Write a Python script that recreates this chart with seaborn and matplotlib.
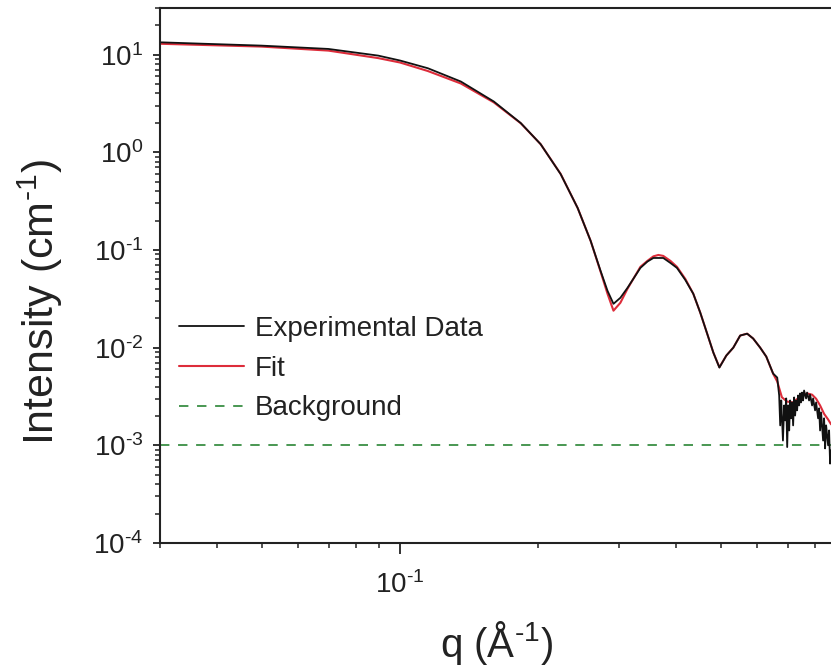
import matplotlib
matplotlib.use("Agg")
import math
import matplotlib.pyplot as plt
import matplotlib.ticker as mticker
import seaborn as sns
import pandas as pd

# ---- data ----
q_exp = [0.0302, 0.0369, 0.0499, 0.0698, 0.0896, 0.1000, 0.1150, 0.1357, 0.1601, 0.1833,
         0.2025, 0.2239, 0.2438, 0.2602, 0.2735, 0.2832, 0.2918, 0.3021, 0.3130, 0.3340,
         0.3459, 0.3565, 0.3746, 0.3883, 0.4012, 0.4183, 0.4355, 0.4510, 0.4669, 0.4816,
         0.4964, 0.5140, 0.5323, 0.5510, 0.5706, 0.5880, 0.6091, 0.6280, 0.6500,
         0.6635, 0.6700, 0.6735, 0.6770, 0.6793, 0.6828, 0.6871, 0.6905, 0.6940, 0.6975,
         0.7010, 0.7045, 0.7079, 0.7115, 0.7150, 0.7186, 0.7222, 0.7258, 0.7295, 0.7331,
         0.7368, 0.7405, 0.7442, 0.7479, 0.7516, 0.7554, 0.7592, 0.7668, 0.7707, 0.7785,
         0.7824, 0.7903, 0.7943, 0.8023, 0.8064, 0.8145, 0.8186, 0.8227, 0.8269, 0.8352,
         0.8394, 0.8436, 0.8479, 0.8564, 0.8607, 0.8650, 0.8693]
I_exp = [13.35, 12.94, 12.36, 11.43, 9.77, 8.7, 7.25, 5.30, 3.31, 1.99,
         1.21, 0.597, 0.269, 0.124, 0.0611, 0.0382, 0.0281, 0.0324, 0.0409, 0.0655,
         0.0760, 0.0828, 0.0828, 0.0736, 0.0655, 0.0494, 0.0356, 0.0228, 0.0139, 0.0089,
         0.00625, 0.0083, 0.0100, 0.0133, 0.0139, 0.0124, 0.0100, 0.0081, 0.00543,
         0.00494, 0.00324, 0.00160, 0.00288, 0.00202, 0.00112, 0.00256, 0.00180, 0.00302, 0.00096,
         0.00256, 0.00142, 0.00288, 0.00189, 0.00275, 0.00160, 0.00309, 0.00202, 0.00288, 0.00228,
         0.00324, 0.00256, 0.00340, 0.00275, 0.00347, 0.00288, 0.00364, 0.00302, 0.00347, 0.00288,
         0.00331, 0.00256, 0.00302, 0.00228, 0.00275, 0.00189, 0.00239, 0.00142, 0.00217, 0.00112,
         0.00189, 0.00093, 0.00160, 0.00100, 0.00142, 0.00065, 0.00089]

q_fit = [0.0302, 0.0499, 0.0698, 0.0896, 0.1000, 0.1150, 0.1357, 0.1601, 0.1833, 0.2025,
         0.2239, 0.2438, 0.2602, 0.2735, 0.2832, 0.2918, 0.3021, 0.3130, 0.3340, 0.3459,
         0.3565, 0.3655, 0.3746, 0.3883, 0.4012, 0.4183, 0.4355, 0.4510, 0.4669, 0.4816,
         0.4964, 0.5140, 0.5323, 0.5510, 0.5706, 0.5880, 0.6091, 0.6280, 0.6500, 0.6635,
         0.6793, 0.6975, 0.7186, 0.7405, 0.7707, 0.7903, 0.8064, 0.8227, 0.8394, 0.8564,
         0.8693]
I_fit = [12.9, 12.08, 10.99, 9.21, 8.3, 6.79, 5.06, 3.24, 1.98, 1.21,
         0.60, 0.269, 0.124, 0.060, 0.0356, 0.0239, 0.0288, 0.040, 0.0672, 0.0773,
         0.0860, 0.0889, 0.0869, 0.0773, 0.0672, 0.0506, 0.0356, 0.0228, 0.0139, 0.0089,
         0.0063, 0.0083, 0.0100, 0.0133, 0.0139, 0.0124, 0.0100, 0.0081, 0.0054, 0.0045,
         0.0031, 0.0028, 0.00275, 0.0031, 0.0034, 0.0033, 0.0030, 0.00256, 0.0021, 0.00184,
         0.00164]

q_bg = [0.03, 0.90]
I_bg = [0.001, 0.001]

labels = ["Experimental Data", "Fit", "Background"]

# ---- style ----
sns.set_theme(style="ticks")
plt.rcParams["font.family"] = ["Liberation Sans", "DejaVu Sans"]
plt.rcParams["mathtext.fontset"] = "custom"
plt.rcParams["mathtext.rm"] = "Liberation Sans"
plt.rcParams["mathtext.it"] = "Liberation Sans:italic"
plt.rcParams["mathtext.bf"] = "Liberation Sans:bold"
plt.rcParams["axes.unicode_minus"] = False

W, H = 831, 669
fig = plt.figure(figsize=(W / 100, H / 100), dpi=100)
ax = fig.add_axes([160 / W, (H - 543) / H, (838 - 160) / W, (543 - 8) / H])

df_exp = pd.DataFrame({"q": q_exp, "I": I_exp})
df_fit = pd.DataFrame({"q": q_fit, "I": I_fit})
df_bg = pd.DataFrame({"q": q_bg, "I": I_bg})

sns.lineplot(data=df_fit, x="q", y="I", ax=ax, color="#dd2c3a", lw=1.5,
             sort=False, estimator=None, label=labels[1], zorder=2)
sns.lineplot(data=df_exp, x="q", y="I", ax=ax, color="#111111", lw=1.3,
             sort=False, estimator=None, label=labels[0], zorder=3)
sns.lineplot(data=df_bg, x="q", y="I", ax=ax, color="#3a8f44", lw=1.3,
             ls=(0, (5.2, 4.8)), sort=False, estimator=None, label=labels[2], zorder=1)

ax.set_xscale("log")
ax.set_yscale("log")
ax.set_xlim(0.03, 0.90)
ax.set_ylim(1e-4, 30)


def pow10(v, pos):
    e = int(round(math.log10(v)))
    if e < 0:
        return "10$^{\\text{-}%d}$" % (-e)
    return "10$^{%d}$" % e


ax.yaxis.set_major_locator(mticker.LogLocator(base=10, numticks=20))
ax.yaxis.set_minor_locator(mticker.LogLocator(base=10, subs=range(2, 10), numticks=100))
ax.yaxis.set_major_formatter(mticker.FuncFormatter(pow10))
ax.yaxis.set_minor_formatter(mticker.NullFormatter())
ax.xaxis.set_major_locator(mticker.LogLocator(base=10, numticks=20))
ax.xaxis.set_minor_locator(mticker.LogLocator(base=10, subs=range(2, 10), numticks=100))
ax.xaxis.set_major_formatter(mticker.FuncFormatter(pow10))
ax.xaxis.set_minor_formatter(mticker.NullFormatter())

for s in ["left", "bottom", "top", "right"]:
    ax.spines[s].set_color("#222222")
    ax.spines[s].set_linewidth(1.5)
ax.spines["right"].set_visible(False)

ax.tick_params(axis="y", which="major", direction="out", length=5, width=1.3,
               colors="#222222", labelsize=20, pad=7, right=False)
ax.tick_params(axis="x", which="major", direction="out", length=8, width=1.3,
               colors="#222222", labelsize=20, pad=12, top=False)
ax.tick_params(which="minor", direction="out", length=3.5, width=1.1, colors="#222222",
               top=False, right=False)

ax.set_xlabel("q (Å$^{\\text{-}1}$)", fontsize=29, color="#222222")
ax.set_ylabel("Intensity (cm$^{\\text{-}1}$)", fontsize=31, color="#222222")
ax.xaxis.set_label_coords(0.497, -0.142)
ax.yaxis.set_label_coords(-0.14, 0.45)

handles, labs = ax.get_legend_handles_labels()
order = [labs.index(l) for l in labels]
leg = ax.legend([handles[i] for i in order], [labs[i] for i in order],
                loc="upper left", bbox_to_anchor=(0.028, 0.425), frameon=False,
                fontsize=20, handlelength=2.35, handletextpad=0.38, labelspacing=0.5,
                borderpad=0, borderaxespad=0)
for t in leg.get_texts():
    t.set_color("#222222")

ax.set_facecolor("white")
fig.patch.set_facecolor("white")
fig.savefig("out.png", dpi=100)
